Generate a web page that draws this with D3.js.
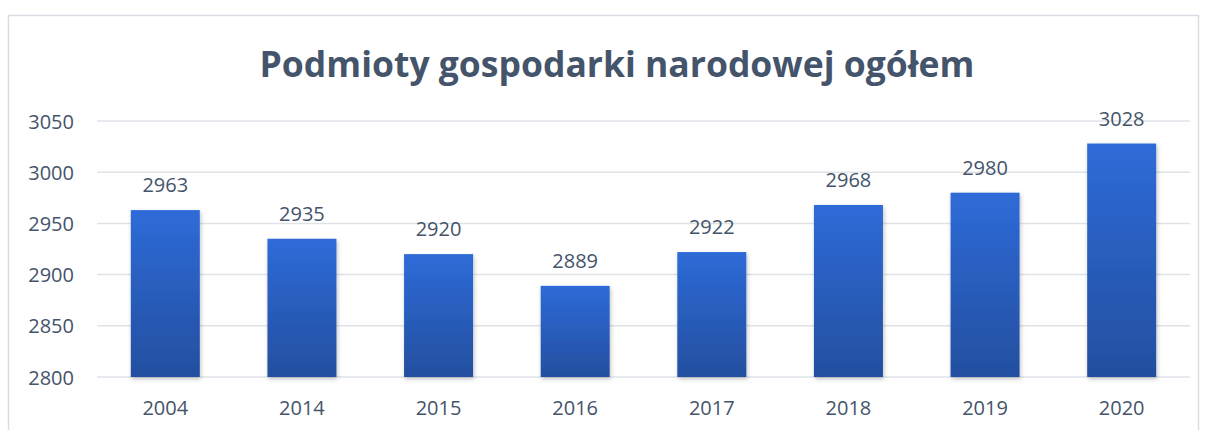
<!DOCTYPE html>
<html><head><meta charset="utf-8">
<script src="https://cdn.jsdelivr.net/npm/d3@7"></script>
<style>body{margin:0;background:#fff}svg{display:block}</style>
</head><body>
<script>
const categories = ["2004","2014","2015","2016","2017","2018","2019","2020"];
const values = [2963,2935,2920,2889,2922,2968,2980,3028];
const yTicks = [2800,2850,2900,2950,3000,3050];
const title = "Podmioty gospodarki narodowej ogółem";

const W = 1205, H = 430;
const svg = d3.select("body").append("svg").attr("width", W).attr("height", H);
const defs = svg.append("defs");
const grad = defs.append("linearGradient").attr("id","bg").attr("x1",0).attr("y1",0).attr("x2",0).attr("y2",1);
grad.append("stop").attr("offset","0%").attr("stop-color","#2e6bd8");
grad.append("stop").attr("offset","100%").attr("stop-color","#234f9f");
const f = defs.append("filter").attr("id","sh").attr("x","-20%").attr("y","-5%").attr("width","140%").attr("height","115%");
f.append("feDropShadow").attr("dx",1).attr("dy",2).attr("stdDeviation",2).attr("flood-color","#000").attr("flood-opacity",0.25);

// frame
svg.append("rect").attr("x",8.5).attr("y",15.5).attr("width",1190).attr("height",430)
  .attr("fill","none").attr("stroke","#d9dde3").attr("stroke-width",1.5);

const x = d3.scaleBand().domain(categories).range([97,1190]).paddingInner(0.495).paddingOuter(0.2475);
const y = d3.scaleLinear().domain([2800,3050]).range([377,121]);

const textColor = "#44546a";
const font = "'Open Sans', 'Noto Sans', sans-serif";

// gridlines
svg.append("g").selectAll("line").data(yTicks).join("line")
  .attr("x1",97).attr("x2",1190).attr("y1",d=>y(d)).attr("y2",d=>y(d))
  .attr("stroke","#dfe3e8").attr("stroke-width",1.5);

// y axis labels
const yAxis = d3.axisLeft(y).tickValues(yTicks).tickSize(0).tickPadding(0).tickFormat(d3.format("d"));
const yg = svg.append("g").attr("transform","translate(74,0)").call(yAxis);
yg.select(".domain").remove();
yg.selectAll("text").attr("font-family",font).attr("font-size",20).attr("fill",textColor).attr("text-anchor","end").attr("dy","0.35em");

// bars
svg.append("g").selectAll("rect").data(values).join("rect")
  .attr("x",(d,i)=>x(categories[i])).attr("width",x.bandwidth())
  .attr("y",d=>y(d)).attr("height",d=>y(2800)-y(d))
  .attr("fill","url(#bg)").attr("filter","url(#sh)");

// value labels
svg.append("g").selectAll("text").data(values).join("text")
  .attr("x",(d,i)=>x(categories[i])+x.bandwidth()/2).attr("y",d=>y(d)-18)
  .attr("text-anchor","middle").attr("font-family",font).attr("font-size",20).attr("fill",textColor)
  .text(d=>d);

// x axis
const xAxis = d3.axisBottom(x).tickSize(0).tickPadding(0);
const xg = svg.append("g").attr("transform","translate(0,408)").call(xAxis);
xg.select(".domain").remove();
xg.selectAll("text").attr("font-family",font).attr("font-size",20).attr("fill",textColor).attr("dy","0.35em");

// title
svg.append("text").attr("x",617).attr("y",77).attr("text-anchor","middle")
  .attr("font-family",font).attr("font-weight","bold").attr("font-size",35.5).attr("fill",textColor)
  .text(title);
</script>
</body></html>
